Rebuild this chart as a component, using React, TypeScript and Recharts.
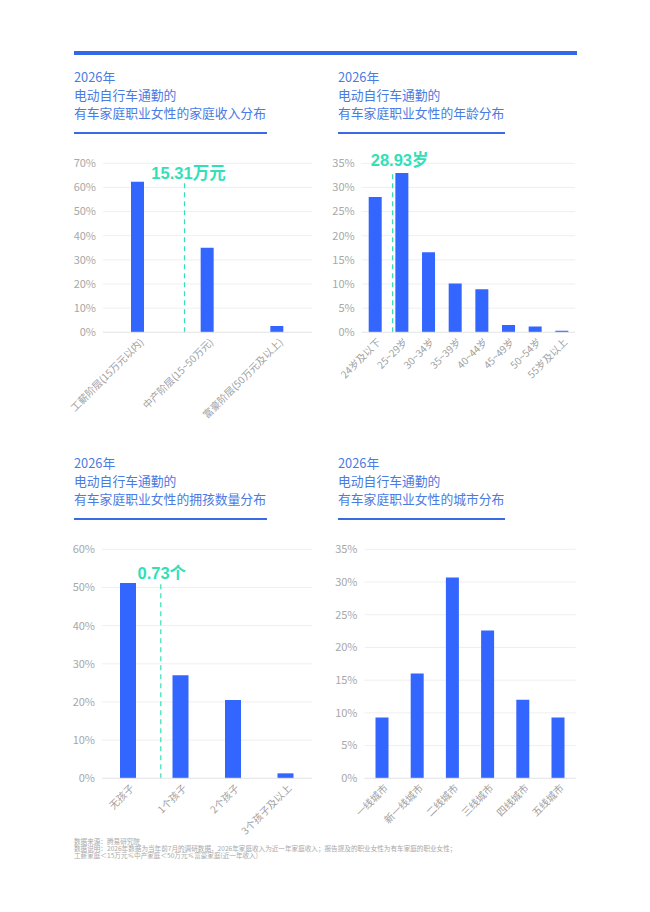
import React from 'react';
import { BarChart, Bar, XAxis, YAxis, CartesianGrid, ReferenceLine } from 'recharts';

// 家庭收入
const incomeCats = ['工薪阶层(15万元以内)', '中产阶层(15~50万元)', '富豪阶层(50万元及以上)'];
const incomeVals = [62.4, 35.0, 2.6];
const incomeTicks = [0, 10, 20, 30, 40, 50, 60, 70];

// 年龄
const ageCats = ['24岁及以下', '25~29岁', '30~34岁', '35~39岁', '40~44岁', '45~49岁', '50~54岁', '55岁及以上'];
const ageVals = [28.0, 33.0, 16.6, 10.1, 8.9, 1.5, 1.2, 0.3];
const ageTicks = [0, 5, 10, 15, 20, 25, 30, 35];

// 拥孩数量
const kidCats = ['无孩子', '1个孩子', '2个孩子', '3个孩子及以上'];
const kidVals = [51.2, 27.0, 20.5, 1.3];
const kidTicks = [0, 10, 20, 30, 40, 50, 60];

// 城市
const cityCats = ['一线城市', '新一线城市', '二线城市', '三线城市', '四线城市', '五线城市'];
const cityVals = [9.3, 16.0, 30.7, 22.6, 12.0, 9.3];
const cityTicks = [0, 5, 10, 15, 20, 25, 30, 35];

// 平均值标记（位置以类目为单位，0 = 第一类左缘）
const incomeMark = { text: '15.31万元', pos: 1.17 };
const ageMark = { text: '28.93岁', pos: 1.16 };
const kidMark = { text: '0.73个', pos: 1.12 };

const BLUE = '#3366ff';
const TEAL = '#33dfb6';
const TITLE = '#4a7be2';
const FONT = '"Noto Sans CJK SC", "Noto Sans", sans-serif';

const XTick = (props: any) => {
  const { x, y, payload, cats } = props;
  return (
    <g transform={`translate(${x + 4},${y + 8})`}>
      <text textAnchor="end" transform="rotate(-45)" dy="0.35em" fontSize={10} fill="#a0a0a0" fontFamily={FONT}>
        {cats[Math.floor(payload.value)]}
      </text>
    </g>
  );
};

const MarkLabel = (props: any) => {
  const { viewBox, text, dx, dy } = props;
  if (!viewBox) return null;
  return (
    <text
      x={viewBox.x + dx}
      y={viewBox.y + dy}
      textAnchor="middle"
      dominantBaseline="central"
      fill={TEAL}
      fontSize={16.5}
      fontWeight={700}
      fontFamily={'"Liberation Sans", "Noto Sans CJK SC", sans-serif'}
    >
      {text}
    </text>
  );
};

interface PanelProps {
  cats: string[];
  vals: number[];
  ticks: number[];
  box: { left: number; top: number; width: number; height: number };
  plot: { left: number; top: number; right: number; bottom: number };
  barSize: number;
  mark?: { text: string; pos: number };
  labelOffset?: [number, number];
}

const Panel: React.FC<PanelProps> = ({ cats, vals, ticks, box, plot, barSize, mark, labelOffset }) => {
  const data = cats.map((name, i) => ({ name, idx: i + 0.5, value: vals[i] }));
  const max = Math.max(...vals);
  return (
    <div style={{ position: 'absolute', left: box.left, top: box.top }}>
      <BarChart
        width={box.width}
        height={box.height}
        data={data}
        margin={{ top: plot.top - box.top, right: box.left + box.width - plot.right, left: 0, bottom: 0 }}
      >
        <CartesianGrid vertical={false} stroke="#efefef" />
        <XAxis
          dataKey="idx"
          type="number"
          domain={[0, cats.length]}
          allowDataOverflow
          ticks={data.map((d) => d.idx)}
          interval={0}
          tick={<XTick cats={cats} />}
          tickLine={false}
          tickSize={0}
          tickMargin={0}
          axisLine={{ stroke: '#e8e8e8' }}
          height={box.top + box.height - plot.bottom}
        />
        <YAxis
          width={plot.left - box.left}
          domain={[ticks[0], ticks[ticks.length - 1]]}
          ticks={ticks}
          interval={0}
          tickFormatter={(v) => `${v}%`}
          axisLine={false}
          tickLine={false}
          tickSize={0}
          tickMargin={7}
          tick={{ fontSize: 11, fill: '#a8a8a8', fontFamily: FONT }}
        />
        <Bar dataKey="value" fill={BLUE} barSize={barSize} isAnimationActive={false} />
        {mark && (
          <ReferenceLine
            segment={[
              { x: mark.pos, y: 0 },
              { x: mark.pos, y: max },
            ]}
            stroke={TEAL}
            strokeWidth={1.2}
            strokeDasharray="5 4"
            label={<MarkLabel text={mark.text} dx={labelOffset ? labelOffset[0] : 0} dy={labelOffset ? labelOffset[1] : -10} />}
          />
        )}
      </BarChart>
    </div>
  );
};

const Title: React.FC<{ left: number; top: number; line3: string; width: number }> = ({ left, top, line3, width }) => (
  <div style={{ position: 'absolute', left, top, fontFamily: FONT, color: TITLE, fontSize: 12.8, lineHeight: '18.3px' }}>
    <div>2026年</div>
    <div>电动自行车通勤的</div>
    <div style={{ whiteSpace: 'nowrap' }}>{line3}</div>
    <div style={{ marginTop: 10, width, height: 2, background: '#3a6be6' }} />
  </div>
);

const footNotes = [
  '数据来源：腾易研究院',
  '数据说明：2026年数据为当年前7月的调研数据，2026年家庭收入为近一年家庭收入；报告提及的职业女性为有车家庭的职业女性；',
  '工薪家庭＜15万元≤中产家庭＜50万元≤富豪家庭(近一年收入)',
];

export default function App() {
  return (
    <div style={{ position: 'relative', width: 650, height: 912, margin: -8, background: '#fff', overflow: 'hidden' }}>
      <div style={{ position: 'absolute', left: 74, top: 51, width: 503, height: 4, background: '#3366e8' }} />

      <Title left={74} top={67.5} line3="有车家庭职业女性的家庭收入分布" width={193} />
      <Title left={338} top={67.5} line3="有车家庭职业女性的年龄分布" width={167} />
      <Title left={74} top={453.5} line3="有车家庭职业女性的拥孩数量分布" width={193} />
      <Title left={338} top={453.5} line3="有车家庭职业女性的城市分布" width={167} />

      <Panel
        cats={incomeCats}
        vals={incomeVals}
        ticks={incomeTicks}
        box={{ left: 40, top: 150, width: 290, height: 290 }}
        plot={{ left: 103, top: 163.3, right: 312, bottom: 332.3 }}
        barSize={13}
        mark={incomeMark}
        labelOffset={[4, -9]}
      />
      <Panel
        cats={ageCats}
        vals={ageVals}
        ticks={ageTicks}
        box={{ left: 320, top: 145, width: 270, height: 290 }}
        plot={{ left: 361.7, top: 163.3, right: 575, bottom: 332.3 }}
        barSize={13}
        mark={ageMark}
        labelOffset={[7, -13]}
      />
      <Panel
        cats={kidCats}
        vals={kidVals}
        ticks={kidTicks}
        box={{ left: 40, top: 535, width: 290, height: 325 }}
        plot={{ left: 102, top: 549.3, right: 312, bottom: 778.3 }}
        barSize={16}
        mark={kidMark}
        labelOffset={[1, -10]}
      />
      <Panel
        cats={cityCats}
        vals={cityVals}
        ticks={cityTicks}
        box={{ left: 320, top: 535, width: 270, height: 325 }}
        plot={{ left: 364.5, top: 549.3, right: 575.7, bottom: 778.3 }}
        barSize={13}
      />

      {footNotes.map((t, i) => (
        <div
          key={i}
          style={{
            position: 'absolute',
            left: 74,
            top: 837.5 + i * 7.2,
            fontFamily: FONT,
            fontSize: 6.6,
            lineHeight: '7px',
            color: '#a8a8a8',
            whiteSpace: 'nowrap',
          }}
        >
          {t}
        </div>
      ))}
    </div>
  );
}
